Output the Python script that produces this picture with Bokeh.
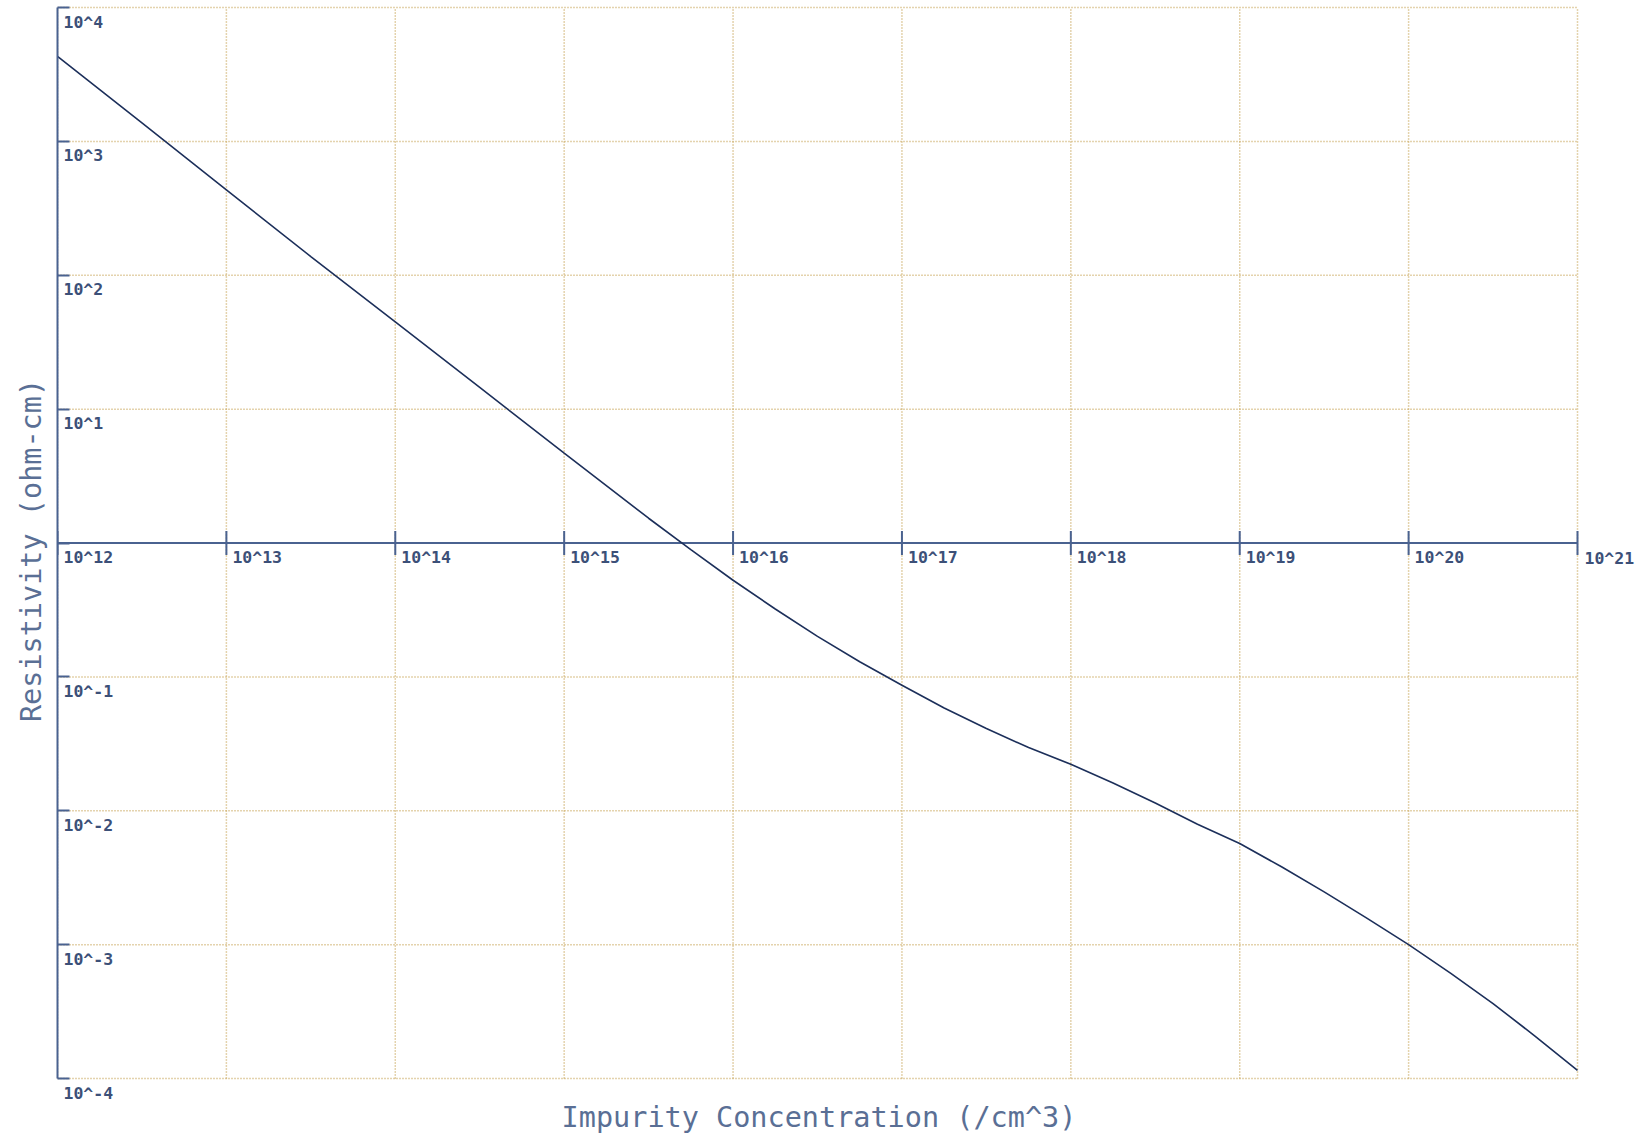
from math import pi

from bokeh.embed import file_html
from bokeh.models import FixedTicker, Label, LogAxis, Range1d
from bokeh.plotting import figure
from bokeh.resources import INLINE

# Resistivity of doped silicon versus impurity concentration
concentration = [1e12, 3.162e12, 1e13, 3.162e13, 1e14, 3.162e14, 1e15, 3.162e15,
                 5.623e15, 1e16, 1.778e16, 3.162e16, 5.623e16, 1e17, 1.778e17,
                 3.162e17, 5.623e17, 1e18, 1.778e18, 3.162e18, 5.623e18, 1e19,
                 1.778e19, 3.162e19, 5.623e19, 1e20, 1.778e20, 3.162e20, 5.623e20, 1e21]
resistivity = [4315, 1374, 434.5, 138.0, 44.87, 14.52, 4.70, 1.531,
               0.891, 0.527, 0.3214, 0.2009, 0.1297, 0.0865, 0.0586,
               0.0411, 0.02965, 0.02223, 0.01614, 0.01143, 0.007925, 0.005689,
               0.003802, 0.002477, 0.001585, 0.001, 0.000610, 0.000363, 0.0002065, 0.0001148]

x_ticks = [1e12, 1e13, 1e14, 1e15, 1e16, 1e17, 1e18, 1e19, 1e20, 1e21]
x_tick_labels = ["10^12", "10^13", "10^14", "10^15", "10^16", "10^17", "10^18",
                 "10^19", "10^20", "10^21"]
y_ticks = [1e-4, 1e-3, 1e-2, 1e-1, 1e0, 1e1, 1e2, 1e3, 1e4]
y_label_ticks = [1e4, 1e3, 1e2, 1e1, 1e-1, 1e-2, 1e-3, 1e-4]
y_tick_labels = ["10^4", "10^3", "10^2", "10^1", "10^-1", "10^-2", "10^-3", "10^-4"]

AXIS = "#4a6290"
LABEL = "#3c5078"
TITLE = "#5a6f95"
GRID = "#c9a75c"
CURVE = "#1c2f5a"
MONO = "DejaVu Sans Mono"

# pixel layout: one decade is 1520/9 px wide and 1071/8 px tall; a little
# padding past the last decades keeps the edge lines and labels unclipped
DEC_X = 1520 / 9
DEC_Y = 1071 / 8
PAD_R, PAD_T, PAD_B = 3, 7, 22

x_range = Range1d(x_ticks[0], x_ticks[-1] * 10 ** (PAD_R / DEC_X))
y_range = Range1d(y_ticks[0] / 10 ** (PAD_B / DEC_Y), y_ticks[-1] * 10 ** (PAD_T / DEC_Y))

p = figure(
    frame_width=1520 + PAD_R, frame_height=1071 + PAD_T + PAD_B,
    x_axis_type="log", y_axis_type="log",
    x_range=x_range, y_range=y_range,
    min_border_left=57, min_border_right=68, min_border_top=0, min_border_bottom=35,
    output_backend="svg", toolbar_location=None,
    background_fill_color="white", border_fill_color="white",
)
p.outline_line_color = None
p.xgrid.visible = False
p.ygrid.visible = False

# dotted decade grid, bounded by the first and last decades
p.multi_line(xs=[[t, t] for t in x_ticks], ys=[[y_ticks[0], y_ticks[-1]]] * len(x_ticks),
             line_color=GRID, line_dash="1 2", line_width=1.5)
p.multi_line(xs=[[x_ticks[0], x_ticks[-1]]] * len(y_ticks), ys=[[t, t] for t in y_ticks],
             line_color=GRID, line_dash="1 2", line_width=1.5)

# left axis: line with inward ticks, labels drawn inside the frame
ya = p.yaxis[0]
ya.ticker = FixedTicker(ticks=y_ticks, minor_ticks=[])
ya.bounds = (y_ticks[0], y_ticks[-1])
ya.axis_line_color = AXIS
ya.axis_line_width = 2
ya.major_tick_line_color = AXIS
ya.major_tick_line_width = 2
ya.major_tick_in = 12
ya.major_tick_out = 0
ya.minor_tick_line_color = None
ya.minor_tick_in = 0
ya.minor_tick_out = 0
ya.major_label_text_font_size = "1px"
ya.major_label_text_color = None
ya.major_label_standoff = 0
ya.axis_label = "Resistivity (ohm-cm)"
ya.axis_label_text_font = MONO
ya.axis_label_text_font_size = "28.5px"
ya.axis_label_text_font_style = "normal"
ya.axis_label_text_color = TITLE
ya.axis_label_standoff = 10

# bottom axis carries only the title; the concentration scale sits at 1 ohm-cm
xa = p.xaxis[0]
xa.ticker = FixedTicker(ticks=x_ticks, minor_ticks=[])
xa.axis_line_color = None
xa.major_tick_line_color = None
xa.minor_tick_line_color = None
xa.major_tick_in = 0
xa.major_tick_out = 0
xa.minor_tick_in = 0
xa.minor_tick_out = 0
xa.major_label_text_font_size = "1px"
xa.major_label_text_color = None
xa.major_label_standoff = 0
xa.axis_label = "Impurity Concentration (/cm^3)"
xa.axis_label_text_font = MONO
xa.axis_label_text_font_size = "28.5px"
xa.axis_label_text_font_style = "normal"
xa.axis_label_text_color = TITLE
xa.axis_label_standoff = 0

# concentration scale drawn across the 1 ohm-cm line
p.line(x=[x_ticks[0], x_ticks[-1]], y=[1, 1], line_color=AXIS, line_width=2)
p.scatter(x=x_ticks, y=[1] * len(x_ticks), marker="dash", angle=pi / 2, size=24,
          line_color=AXIS, line_width=2)

label_style = dict(x_offset=6, y_offset=-5, text_baseline="top", text_font=MONO,
                   text_font_size="16.5px", text_font_style="bold", text_color=LABEL)
for xv, txt in zip(x_ticks[:-1], x_tick_labels[:-1]):
    p.add_layout(Label(x=xv, y=1, text=txt, **label_style))
for yv, txt in zip(y_label_ticks, y_tick_labels):
    p.add_layout(Label(x=x_ticks[0], y=yv, text=txt, **label_style))

# the last concentration label sits past the frame, so it rides on a right axis
# whose range is nudged so that its single tick lands just under the scale line
NUDGE = 10 ** (15 / DEC_Y)
p.extra_y_ranges = {"edge": Range1d(y_range.start * NUDGE, y_range.end * NUDGE)}
ra = LogAxis(y_range_name="edge", ticker=FixedTicker(ticks=[1], minor_ticks=[]),
             major_label_overrides={1: x_tick_labels[-1]})
ra.axis_line_color = None
ra.major_tick_line_color = None
ra.minor_tick_line_color = None
ra.major_tick_in = 0
ra.major_tick_out = 0
ra.minor_tick_in = 0
ra.minor_tick_out = 0
ra.major_label_standoff = 4
ra.major_label_text_font = MONO
ra.major_label_text_font_size = "16.5px"
ra.major_label_text_font_style = "bold"
ra.major_label_text_color = LABEL
p.add_layout(ra, "right")

p.line(concentration, resistivity, line_color=CURVE, line_width=1.6)

open("out.html", "w").write(file_html(p, INLINE))
